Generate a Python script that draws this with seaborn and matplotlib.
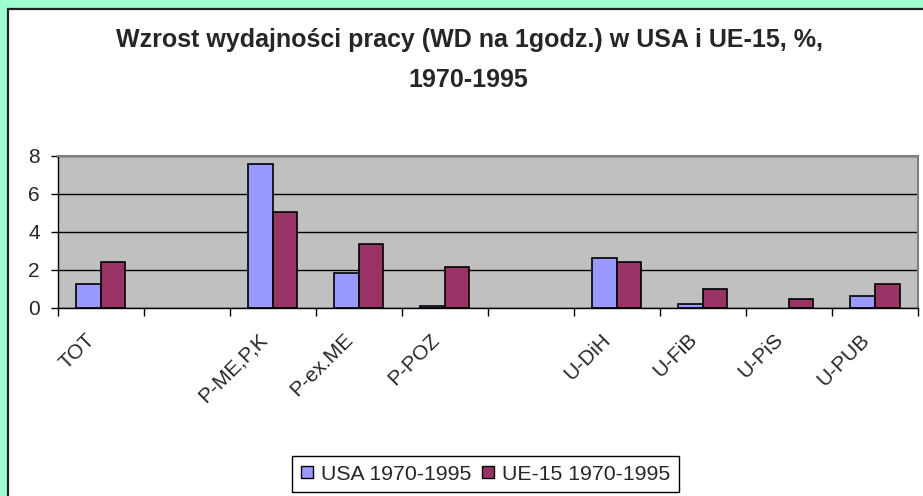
import numpy as np
import pandas as pd
import seaborn as sns
import matplotlib.pyplot as plt
from matplotlib.patches import Rectangle

# data
categories = ["TOT", "", "P-ME,P,K", "P-ex.ME", "P-POZ", " ", "U-DiH", "U-FiB", "U-PiS", "U-PUB"]
usa = [1.25, np.nan, 7.55, 1.84, 0.1, np.nan, 2.6, 0.2, np.nan, 0.6]
ue15 = [2.4, np.nan, 5.05, 3.37, 2.13, np.nan, 2.4, 0.97, 0.47, 1.25]
series = ["USA 1970-1995", "UE-15 1970-1995"]
colors = ["#9999FF", "#993366"]
yticks = [0, 2, 4, 6, 8]

df = pd.DataFrame(
    {
        "sector": categories * 2,
        "value": usa + ue15,
        "series": [series[0]] * len(categories) + [series[1]] * len(categories),
    }
)

sns.set_theme(style="white")
plt.rcParams["font.family"] = ["Liberation Sans", "DejaVu Sans"]

W, H = 923, 496
fig = plt.figure(figsize=(W / 100, H / 100), dpi=100, facecolor="#9cffcd")

# white chart panel with dark border on the slide background
fig.add_artist(
    Rectangle(
        (8 / W, -0.05),
        1.1,
        1 - 9 / H + 0.05,
        transform=fig.transFigure,
        facecolor="white",
        edgecolor="#222222",
        linewidth=1.6,
        zorder=-1,
    )
)

ax = fig.add_axes([57.7 / W, 1 - 307.7 / H, (918 - 57.7) / W, 152 / H])
sns.barplot(
    data=df,
    x="sector",
    y="value",
    hue="series",
    order=categories,
    hue_order=series,
    palette=colors,
    saturation=1,
    width=0.57,
    edgecolor="black",
    linewidth=1.2,
    errorbar=None,
    ax=ax,
)

ax.set_facecolor("#C0C0C0")
ax.set_xlim(-0.5, len(categories) - 0.5)
ax.set_ylim(0, 8)
ax.set_yticks(yticks)
ax.grid(axis="y", color="black", linewidth=1)
ax.set_axisbelow(True)
ax.set_xlabel("")
ax.set_ylabel("")

for side in ["top", "right"]:
    ax.spines[side].set_color("#808080")
    ax.spines[side].set_linewidth(1.5)
for side in ["left", "bottom"]:
    ax.spines[side].set_color("black")
    ax.spines[side].set_linewidth(1)

ax.tick_params(axis="y", left=True, length=5, width=1, color="black", pad=8, labelsize=15)

# category labels (slightly left of centre, like Excel), tick marks at category boundaries
ax.set_xticks(np.arange(len(categories)) - 0.18)
ax.set_xticklabels(categories, rotation=45, ha="right", va="top", rotation_mode="anchor", fontsize=15)
ax.tick_params(axis="x", which="major", bottom=True, length=0, pad=16)
ax.set_xticks(np.arange(-0.5, len(categories), 1), minor=True)
ax.tick_params(axis="x", which="minor", bottom=True, length=6, width=1, color="black")

# legend at the bottom of the panel
leg = ax.get_legend()
handles = leg.legend_handles
labels = [t.get_text() for t in leg.get_texts()]
leg.remove()
for h in handles:
    h.set_edgecolor("black")
    h.set_linewidth(1)
fleg = fig.legend(
    handles,
    labels,
    loc="center",
    bbox_to_anchor=(485.7 / W, 1 - 474 / H),
    ncol=2,
    frameon=True,
    fancybox=False,
    framealpha=1,
    edgecolor="black",
    fontsize=15.3,
    handlelength=0.55,
    handleheight=0.55,
    handletextpad=0.4,
    columnspacing=0.5,
    borderpad=0.4,
    borderaxespad=0,
)
fleg.get_frame().set_linewidth(1)

fig.text(
    470 / W,
    1 - 47.3 / H,
    "Wzrost wydajności pracy (WD na 1godz.) w USA i UE-15, %,",
    ha="center",
    va="baseline",
    fontsize=18,
    fontweight="bold",
)
fig.text(468 / W, 1 - 87 / H, "1970-1995", ha="center", va="baseline", fontsize=18, fontweight="bold")

fig.savefig("out.png", dpi=100, facecolor=fig.get_facecolor())
